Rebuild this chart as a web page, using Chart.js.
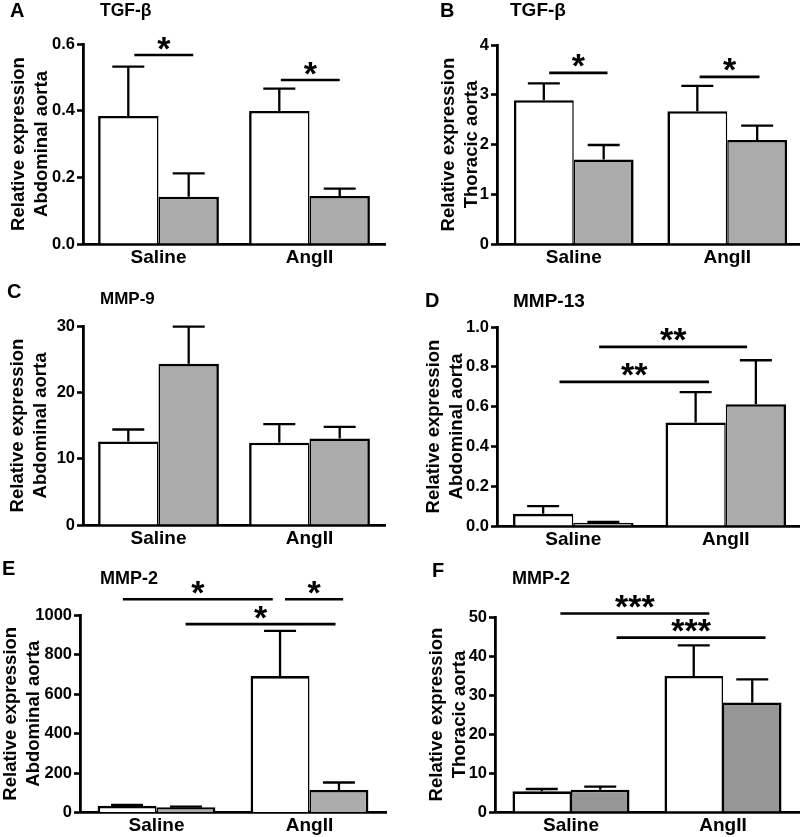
<!DOCTYPE html>
<html>
<head>
<meta charset="utf-8">
<script src="https://cdn.jsdelivr.net/npm/chart.js@4/dist/chart.umd.min.js"></script>
<style>
  html, body { margin: 0; padding: 0; background: #fff; overflow: hidden; }
  #figure { position: relative; width: 800px; height: 837px; overflow: hidden; }
  #figure canvas { position: absolute; }
</style>
</head>
<body>
<div id="figure">
  <canvas id="panel-a" width="400" height="280" style="left:0;top:0"></canvas>
  <canvas id="panel-b" width="405" height="280" style="left:400px;top:0"></canvas>
  <canvas id="panel-c" width="400" height="280" style="left:0;top:280px"></canvas>
  <canvas id="panel-d" width="405" height="280" style="left:400px;top:280px"></canvas>
  <canvas id="panel-e" width="400" height="277" style="left:0;top:560px"></canvas>
  <canvas id="panel-f" width="405" height="277" style="left:400px;top:560px"></canvas>
</div>
<script>
const categories = ['Saline', 'AngII'];

// A: TGF-β, abdominal aorta
const aWhite = [0.384, 0.399];
const aWhiteErr = [0.148, 0.067];
const aGray = [0.142, 0.144];
const aGrayErr = [0.070, 0.022];
const aTicks = ['0.0', '0.2', '0.4', '0.6'];
const aStars = [
  { from: -0.16, to: 0.23, y: 0.567, text: '*' },
  { from: 0.81, to: 1.20, y: 0.492, text: '*' }
];

// B: TGF-β, thoracic aorta
const bWhite = [2.89, 2.67];
const bWhiteErr = [0.34, 0.51];
const bGray = [1.70, 2.09];
const bGrayErr = [0.29, 0.29];
const bTicks = ['0', '1', '2', '3', '4'];
const bStars = [
  { from: -0.16, to: 0.22, y: 3.44, text: '*' },
  { from: 0.82, to: 1.21, y: 3.36, text: '*' }
];

// C: MMP-9, abdominal aorta
const cWhite = [12.6, 12.4];
const cWhiteErr = [1.8, 2.8];
const cGray = [24.3, 13.05];
const cGrayErr = [5.6, 1.75];
const cTicks = ['0', '10', '20', '30'];
const cStars = [];

// D: MMP-13, abdominal aorta
const dWhite = [0.061, 0.52];
const dWhiteErr = [0.039, 0.153];
const dGray = [0.016, 0.612];
const dGrayErr = [0.004, 0.221];
const dTicks = ['0.0', '0.2', '0.4', '0.6', '0.8', '1.0'];
const dStars = [
  { from: -0.09, to: 0.89, y: 0.724, text: '**' },
  { from: 0.17, to: 1.14, y: 0.90, text: '**' }
];

// E: MMP-2, abdominal aorta
const eWhite = [34, 691];
const eWhiteErr = [5, 229];
const eGray = [27, 114];
const eGrayErr = [3, 38];
const eTicks = ['0', '200', '400', '600', '800', '1000'];
const eStars = [
  { from: -0.22, to: 0.76, y: 1080, text: '*' },
  { from: 0.84, to: 1.22, y: 1080, text: '*' },
  { from: 0.19, to: 1.17, y: 954, text: '*' }
];

// F: MMP-2, thoracic aorta
const fWhite = [5.3, 34.9];
const fWhiteErr = [0.6, 7.8];
const fGray = [5.7, 28.1];
const fGrayErr = [0.8, 5.9];
const fTicks = ['0', '10', '20', '30', '40', '50'];
const fStars = [
  { from: -0.07, to: 0.91, y: 50.9, text: '***' },
  { from: 0.30, to: 1.28, y: 44.7, text: '***' }
];

const FONT = '"Liberation Sans", Arial, Helvetica, sans-serif';

// error bars, significance bars, panel letter and title
const annotate = {
  id: 'annotate',
  afterDatasetsDraw(chart, args, opts) {
    const ctx = chart.ctx;
    const xs = chart.scales.x;
    const ys = chart.scales.y;
    ctx.save();
    ctx.strokeStyle = '#000';
    ctx.fillStyle = '#000';
    ctx.lineWidth = 2.3;
    ctx.lineCap = 'butt';

    opts.errors.forEach((err, d) => {
      const meta = chart.getDatasetMeta(d);
      const values = chart.data.datasets[d].data;
      meta.data.forEach((bar, i) => {
        const yTop = ys.getPixelForValue(values[i] + err[i]);
        ctx.beginPath();
        ctx.moveTo(bar.x, bar.y);
        ctx.lineTo(bar.x, yTop);
        ctx.moveTo(bar.x - 16, yTop);
        ctx.lineTo(bar.x + 16, yTop);
        ctx.stroke();
      });
    });

    ctx.lineWidth = 2.6;
    ctx.font = 'bold 34px ' + FONT;
    ctx.textAlign = 'center';
    ctx.textBaseline = 'alphabetic';
    opts.stars.forEach(s => {
      const x1 = xs.getPixelForValue(s.from);
      const x2 = xs.getPixelForValue(s.to);
      const yl = ys.getPixelForValue(s.y);
      ctx.beginPath();
      ctx.moveTo(x1, yl);
      ctx.lineTo(x2, yl);
      ctx.stroke();
      const m = ctx.measureText(s.text);
      const cy = yl - 12;
      ctx.fillText(s.text, (x1 + x2) / 2, cy + (m.actualBoundingBoxAscent - m.actualBoundingBoxDescent) / 2);
    });

    ctx.textAlign = 'left';
    ctx.textBaseline = 'middle';
    ctx.font = 'bold 20px ' + FONT;
    ctx.fillText(opts.letter[0], opts.letter[1], opts.letter[2]);
    ctx.font = 'bold ' + opts.title[3] + 'px ' + FONT;
    ctx.fillText(opts.title[0], opts.title[1], opts.title[2]);
    ctx.restore();
  }
};

function makePanel(p) {
  const canvas = document.getElementById(p.id);
  const ticks = p.ticks;
  const side = 2.6, inner = 1.5;
  return new Chart(canvas, {
    type: 'bar',
    data: {
      labels: categories,
      datasets: [
        {
          data: p.white,
          backgroundColor: '#ffffff',
          borderColor: '#000000',
          borderWidth: { top: side, left: side, right: inner, bottom: 0 },
          categoryPercentage: p.group,
          barPercentage: 1
        },
        {
          data: p.gray,
          backgroundColor: p.grayColor,
          borderColor: '#000000',
          borderWidth: { top: side, left: inner, right: side, bottom: 0 },
          categoryPercentage: p.group,
          barPercentage: 1
        }
      ]
    },
    options: {
      responsive: false,
      animation: false,
      events: [],
      layout: { padding: { left: 0, top: p.top, right: canvas.width - p.right, bottom: 0 } },
      plugins: {
        legend: { display: false },
        tooltip: { enabled: false },
        annotate: { errors: [p.whiteErr, p.grayErr], stars: p.stars, letter: p.letter, title: p.title }
      },
      scales: {
        x: {
          type: 'category',
          offset: true,
          grid: { display: false, drawTicks: false },
          border: { color: '#000', width: 2.8 },
          ticks: { color: '#000', padding: 2, font: { family: FONT, size: 19, weight: 'bold' } },
          afterFit: s => { s.height = canvas.height - p.bottom; }
        },
        y: {
          min: parseFloat(ticks[0]),
          max: parseFloat(ticks[ticks.length - 1]),
          afterBuildTicks: s => { s.ticks = ticks.map(t => ({ value: parseFloat(t) })); },
          ticks: {
            color: '#000',
            padding: 2,
            font: { family: FONT, size: 16.5, weight: 'bold' },
            callback: (v, i) => ticks[i]
          },
          grid: { drawOnChartArea: false, color: '#000', tickColor: '#000', tickWidth: 2.6, tickLength: 6 },
          border: { color: '#000', width: 2.8 },
          title: {
            display: true,
            text: ['Relative expression', p.tissue],
            color: '#000',
            font: { family: FONT, size: 18.5, weight: 'bold', lineHeight: 1.22 },
            padding: { top: p.titlePad, bottom: 0 }
          },
          afterFit: s => { s.width = p.left; }
        }
      }
    },
    plugins: [annotate]
  });
}

const panels = [
  { id: 'panel-a', white: aWhite, whiteErr: aWhiteErr, gray: aGray, grayErr: aGrayErr, ticks: aTicks, stars: aStars,
    tissue: 'Abdominal aorta', grayColor: '#ababab', left: 83, top: 44, bottom: 244, right: 385, group: 0.8, titlePad: 8,
    letter: ['A', 10, 11], title: ['TGF-β', 100, 11, 17.5] },
  { id: 'panel-b', white: bWhite, whiteErr: bWhiteErr, gray: bGray, grayErr: bGrayErr, ticks: bTicks, stars: bStars,
    tissue: 'Thoracic aorta', grayColor: '#ababab', left: 97, top: 45, bottom: 244, right: 404, group: 0.78, titlePad: 38,
    letter: ['B', 40, 11], title: ['TGF-β', 110, 11, 19] },
  { id: 'panel-c', white: cWhite, whiteErr: cWhiteErr, gray: cGray, grayErr: cGrayErr, ticks: cTicks, stars: cStars,
    tissue: 'Abdominal aorta', grayColor: '#ababab', left: 83, top: 46, bottom: 245, right: 385, group: 0.8, titlePad: 7,
    letter: ['C', 7, 12], title: ['MMP-9', 100, 19, 17] },
  { id: 'panel-d', white: dWhite, whiteErr: dWhiteErr, gray: dGray, grayErr: dGrayErr, ticks: dTicks, stars: dStars,
    tissue: 'Abdominal aorta', grayColor: '#ababab', left: 97, top: 47, bottom: 246, right: 402, group: 0.79, titlePad: 23,
    letter: ['D', 25, 21.5], title: ['MMP-13', 113, 21.5, 19] },
  { id: 'panel-e', white: eWhite, whiteErr: eWhiteErr, gray: eGray, grayErr: eGrayErr, ticks: eTicks, stars: eStars,
    tissue: 'Abdominal aorta', grayColor: '#ababab', left: 80, top: 55, bottom: 252.5, right: 386, group: 0.77, titlePad: 0,
    letter: ['E', 2, 9.5], title: ['MMP-2', 100, 19, 18] },
  { id: 'panel-f', white: fWhite, whiteErr: fWhiteErr, gray: fGray, grayErr: fGrayErr, ticks: fTicks, stars: fStars,
    tissue: 'Thoracic aorta', grayColor: '#969696', left: 95, top: 57, bottom: 252, right: 399, group: 0.77, titlePad: 26,
    letter: ['F', 32, 11], title: ['MMP-2', 112, 19, 18] }
];

panels.forEach(makePanel);
</script>
</body>
</html>
